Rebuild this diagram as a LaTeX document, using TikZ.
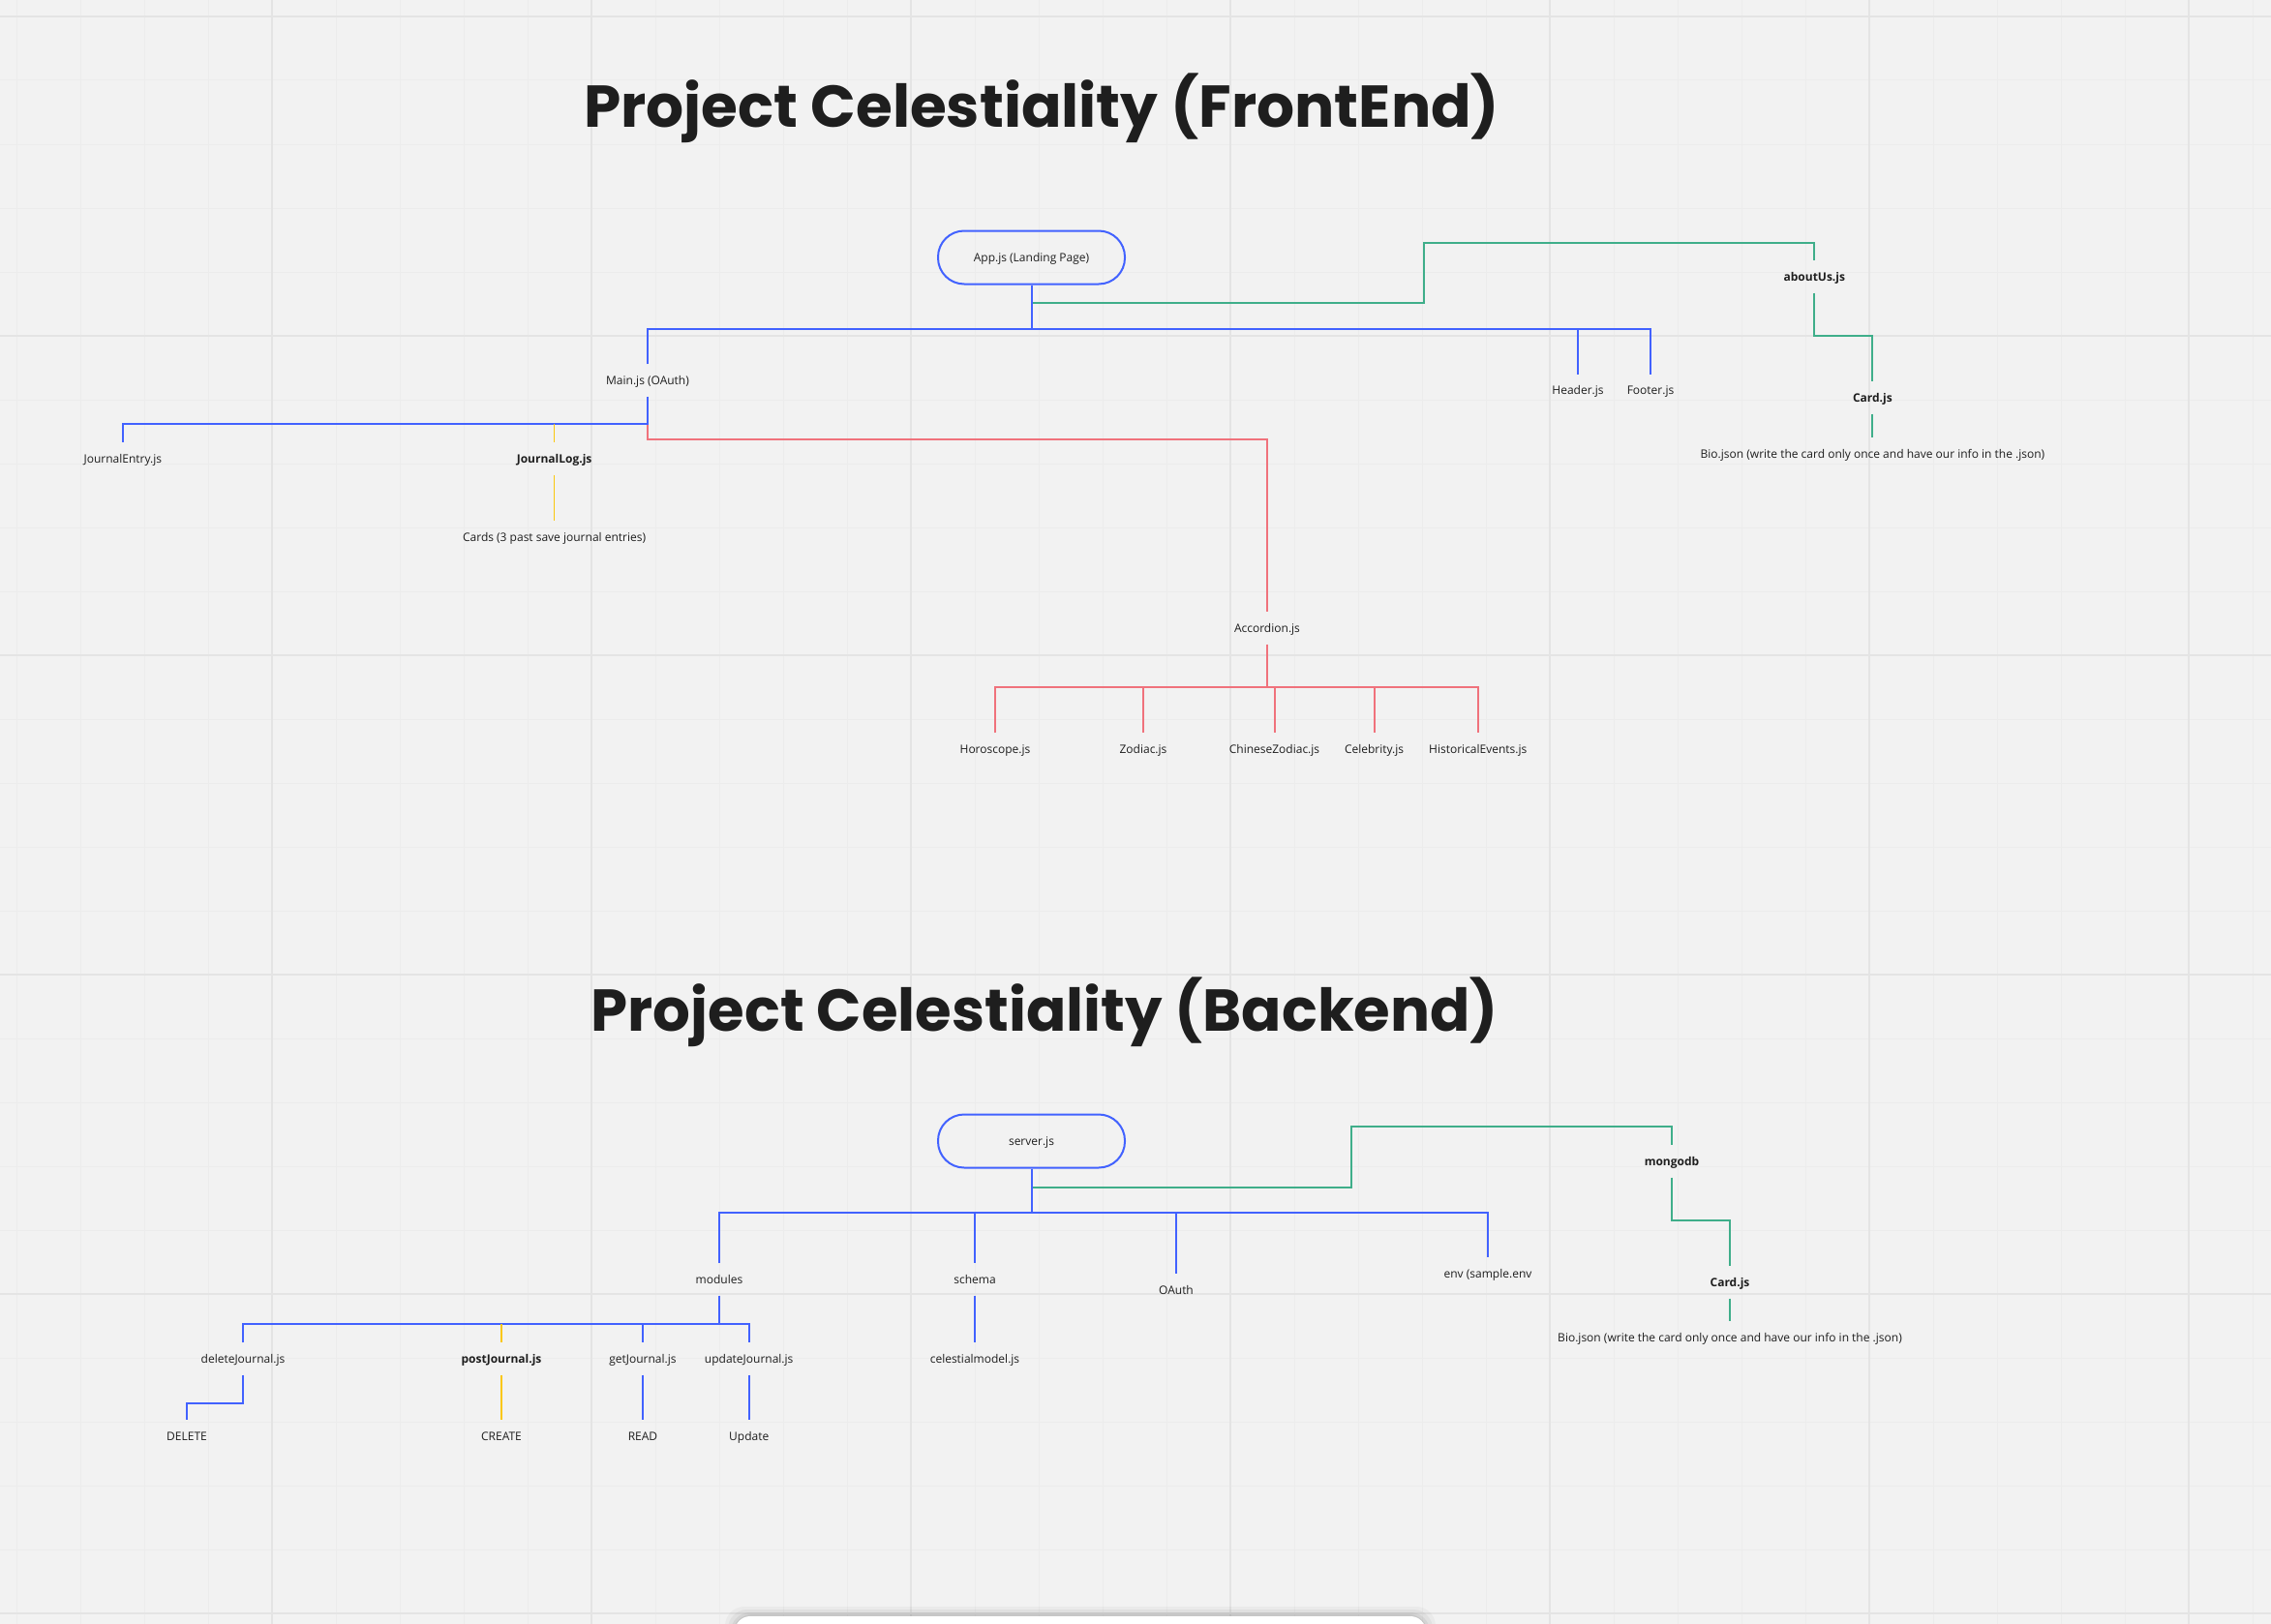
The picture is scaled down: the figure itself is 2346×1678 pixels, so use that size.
\documentclass[tikz,border=0pt]{standalone}
\usepackage{fontspec}
\setmainfont{Open Sans}
\newfontfamily\titlefont{Poppins}
\usepackage{graphicx}
\definecolor{bgC}{HTML}{F2F2F2}
\definecolor{minorC}{HTML}{ECECEC}
\definecolor{majorC}{HTML}{E4E4E4}
\definecolor{blueC}{HTML}{4262FF}
\definecolor{greenC}{HTML}{3FAE8A}
\definecolor{redC}{HTML}{F0727C}
\definecolor{yellowC}{HTML}{FAC710}
\definecolor{txtC}{HTML}{1E1E1E}
\begin{document}
\begin{tikzpicture}[x=1pt,y=-1pt,
  lbl/.style={inner xsep=2pt, inner ysep=12.2pt, text height=8.6pt, text depth=0pt,
    font=\fontsize{12}{14}\selectfont, text=txtC},
  lblb/.style={lbl, font=\fontsize{12}{14}\selectfont\bfseries},
  boxst/.style={draw=blueC, line width=2pt, rounded corners=27pt, minimum width=193pt,
    minimum height=55pt, inner sep=0pt, text height=8.6pt, text depth=0pt,
    font=\fontsize{12}{14}\selectfont, text=txtC},
  ttl/.style={inner sep=0pt, anchor=base west, text=txtC,
    font=\titlefont\bfseries\fontsize{61}{61}\selectfont},
  bl/.style={draw=blueC, line width=2pt},
  gr/.style={draw=greenC, line width=2pt},
  rd/.style={draw=redC, line width=2pt},
  yl/.style={draw=yellowC, line width=1.6pt},
  minorline/.style={draw=minorC, line width=1pt},
  majorline/.style={draw=majorC, line width=2.4pt}
]
\useasboundingbox (0,0) rectangle (2346,1678);
\clip (0,0) rectangle (2346,1678);
\fill[bgC] (0,0) rectangle (2346,1678);
% grid
\foreach \i in {0,...,35} { \draw[minorline] ({17+66*\i},0) -- ({17+66*\i},1678); }
\foreach \i in {0,...,25} { \draw[minorline] (0,{17+66*\i}) -- (2346,{17+66*\i}); }
\foreach \i in {0,...,6} { \draw[majorline] ({281+330*\i},0) -- ({281+330*\i},1678); }
\foreach \i in {0,...,5} { \draw[majorline] (0,{17+330*\i}) -- (2346,{17+330*\i}); }
% toolbar at bottom
\foreach \s/\o in {10/0.03,7/0.04,4/0.05,2/0.06} {
  \fill[black, opacity=\o, rounded corners=20pt] (759-\s,1670-\s) rectangle (1473+\s,1720);
}
\fill[white, rounded corners=16pt] (759,1670) rectangle (1473,1720);

% titles
\node[ttl] (title1) at (603,131.7) {\resizebox{946pt}{\height}{Project Celestiality (FrontEnd)}};
\node[ttl] (title2) at (610.6,1065) {\resizebox{937pt}{\height}{Project Celestiality (Backend)}};

% ---------- FrontEnd ----------
\node[boxst] (app) at (1065.5,266) {App.js (Landing Page)};
\node[lbl] (main) at (669,393) {Main.js (OAuth)};
\node[lbl] (header) at (1630,403.3) {Header.js};
\node[lbl] (footer) at (1705,403.3) {Footer.js};
\node[lblb] (about) at (1874.3,286) {aboutUs.js};
\node[lblb] (card1) at (1934.4,411) {Card.js};
\node[lbl] (bio1) at (1934.4,469) {Bio.json (write the card only once and have our info in the .json)};
\node[lbl] (jentry) at (126.8,474) {JournalEntry.js};
\node[lblb] (jlog) at (572.6,474) {JournalLog.js};
\node[lbl] (cards) at (572.6,555) {Cards (3 past save journal entries)};
\node[lbl] (acc) at (1309,649) {Accordion.js};
\node[lbl] (horo) at (1028,774) {Horoscope.js};
\node[lbl] (zod) at (1181,774) {Zodiac.js};
\node[lbl] (czod) at (1316.5,774) {ChineseZodiac.js};
\node[lbl] (celeb) at (1419.6,774) {Celebrity.js};
\node[lbl] (hist) at (1526.8,774) {HistoricalEvents.js};

\draw[gr] (1065.5,313) -- (1470.6,313) -- (1470.6,250.7) -- (1874.3,250.7) -- (about.north);
\draw[gr] (about.south) -- (1874.3,347.3) -- (1934.4,347.3) -- (card1.north);
\draw[gr] (card1.south) -- (bio1.north);

\draw[bl] (app.south) -- (1065.5,339.5);
\draw[bl] (main.north) -- (669,339.5) -- (1705,339.5) -- (footer.north);
\draw[bl] (1630,339.5) -- (header.north);
\draw[rd] (669,438) -- (669,454) -- (1309,454) -- (acc.north);
\draw[bl] (main.south) -- (669,438) -- (126.8,438) -- (jentry.north);
\draw[yl] (572.6,438) -- (jlog.north);
\draw[yl] (jlog.south) -- (cards.north);

\draw[rd] (acc.south) -- (1309,710);
\draw[rd] (horo.north) -- (1028,710) -- (1526.8,710) -- (hist.north);
\draw[rd] (1181,710) -- (zod.north);
\draw[rd] (1316.5,710) -- (czod.north);
\draw[rd] (1419.6,710) -- (celeb.north);

% ---------- Backend ----------
\node[boxst] (server) at (1065.5,1179) {server.js};
\node[lbl] (modules) at (743,1322) {modules};
\node[lbl] (schema) at (1007,1322) {schema};
\node[lbl] (oauth) at (1215,1333) {OAuth};
\node[lbl] (env) at (1537,1316) {env (sample.env};
\node[lblb] (mongo) at (1727,1200) {mongodb};
\node[lblb] (card2) at (1787,1325) {Card.js};
\node[lbl] (bio2) at (1787,1381.7) {Bio.json (write the card only once and have our info in the .json)};
\node[lbl] (celestial) at (1007,1404) {celestialmodel.js};
\node[lbl] (delj) at (251,1404) {deleteJournal.js};
\node[lblb] (postj) at (518,1404) {postJournal.js};
\node[lbl] (getj) at (664,1404) {getJournal.js};
\node[lbl] (updj) at (773.7,1404) {updateJournal.js};
\node[lbl] (del) at (193,1484) {DELETE};
\node[lbl] (create) at (518,1484) {CREATE};
\node[lbl] (read) at (664,1484) {READ};
\node[lbl] (upd) at (773.7,1484) {Update};

\draw[gr] (1065.5,1226.7) -- (1396,1226.7) -- (1396,1164) -- (1727,1164) -- (mongo.north);
\draw[gr] (mongo.south) -- (1727,1261) -- (1787,1261) -- (card2.north);
\draw[gr] (card2.south) -- (bio2.north);

\draw[bl] (server.south) -- (1065.5,1252.7);
\draw[bl] (modules.north) -- (743,1252.7) -- (1537,1252.7) -- (env.north);
\draw[bl] (1007,1252.7) -- (schema.north);
\draw[bl] (1215,1252.7) -- (oauth.north);
\draw[bl] (schema.south) -- (celestial.north);

\draw[bl] (modules.south) -- (743,1368.3);
\draw[bl] (delj.north) -- (251,1368.3) -- (773.7,1368.3) -- (updj.north);
\draw[bl] (664,1368.3) -- (getj.north);
\draw[yl] (518,1368.3) -- (postj.north);

\draw[bl] (delj.south) -- (251,1450) -- (193,1450) -- (del.north);
\draw[yl] (postj.south) -- (create.north);
\draw[bl] (getj.south) -- (read.north);
\draw[bl] (updj.south) -- (upd.north);
\end{tikzpicture}
\end{document}
